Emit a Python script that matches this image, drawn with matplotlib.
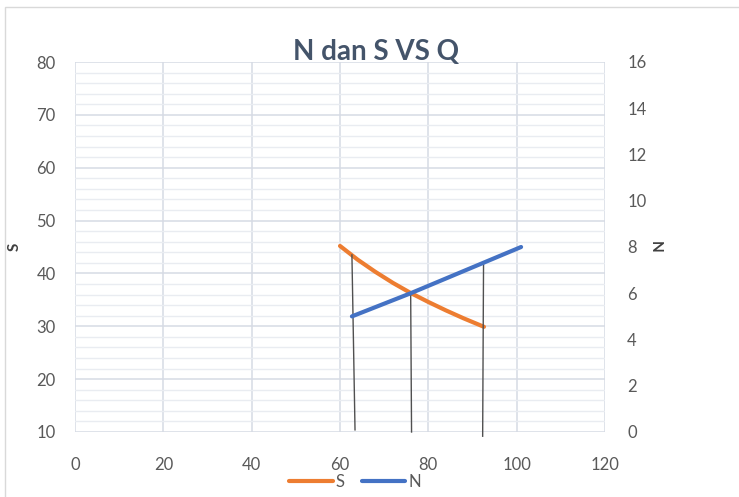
import matplotlib
matplotlib.use("Agg")
import matplotlib.pyplot as plt
from matplotlib.patches import Rectangle
from matplotlib.ticker import MultipleLocator

# Data
q_s = [60, 64, 68, 72, 76, 80, 84, 88, 92.6]
s_vals = [45.2, 42.6, 40.3, 38.2, 36.3, 34.6, 33.0, 31.5, 29.9]
q_n = [62.7, 76, 101]
n_vals = [5.0, 6.0, 8.0]
# hand-drawn vertical guide lines (Q at bottom, Q at top, S at bottom, S at top)
v_q_bottom = [63.4, 76.2, 92.3]
v_q_top = [62.7, 76.0, 92.5]
v_s_bottom = [10.4, 10.0, 9.2]
v_s_top = [43.5, 36.3, 42.0]

x_ticks = [0, 20, 40, 60, 80, 100, 120]
s_ticks = [10, 20, 30, 40, 50, 60, 70, 80]
n_ticks = [0, 2, 4, 6, 8, 10, 12, 14, 16]

plt.rcParams['font.family'] = ['Lato', 'DejaVu Sans']
W, H = 739, 497
fig = plt.figure(figsize=(W / 100, H / 100), dpi=100)
fig.patches.append(Rectangle((5 / W, -0.1), 1.2, 1 - 7 / H + 0.1, transform=fig.transFigure,
                             fill=False, edgecolor='#d9d9d9', linewidth=1))

ax = fig.add_axes([75 / W, 1 - 432 / H, 530 / W, 370 / H])
ax.set_xlim(0, 120)
ax.set_ylim(10, 80)
ax.set_xticks(x_ticks)
ax.set_yticks(s_ticks)
ax.yaxis.set_minor_locator(MultipleLocator(2))
ax.grid(True, which='major', color='#d6dbe4', linewidth=1.1)
ax.grid(True, which='minor', axis='y', color='#e9ecf1', linewidth=1.0)
for sp in ax.spines.values():
    sp.set_visible(False)
ax.tick_params(axis='both', which='both', length=0, colors='#595959', labelsize=12)
ax.tick_params(axis='x', pad=18)
ax.tick_params(axis='y', pad=14)
ax.set_axisbelow(True)

ax2 = ax.twinx()
ax2.set_ylim(0, 16)
ax2.set_yticks(n_ticks)
for sp in ax2.spines.values():
    sp.set_visible(False)
ax2.tick_params(axis='y', length=0, colors='#595959', labelsize=12, pad=16)

ls, = ax.plot(q_s, s_vals, color='#ED7D31', linewidth=3, solid_capstyle='round',
              solid_joinstyle='round', label='S', zorder=3)
ln, = ax2.plot(q_n, n_vals, color='#4472C4', linewidth=3, solid_capstyle='round', label='N', zorder=3)
for xb, xt, yb, yt in zip(v_q_bottom, v_q_top, v_s_bottom, v_s_top):
    ax.plot([xb, xt], [yb, yt], color='#505050', linewidth=1.0, clip_on=False, zorder=4)

ax.set_ylabel('S', color='#404040', fontsize=11, fontweight='bold')
ax.yaxis.set_label_coords((22 - 75) / 530, 0.5)
ax2.set_ylabel('N', color='#404040', fontsize=11, fontweight='bold', rotation=-90, va='center')
ax2.yaxis.set_label_coords((655 - 75) / 530, 0.5)

fig.text(376 / W, 1 - 52 / H, 'N dan S VS Q', ha='center', va='center', fontsize=20,
         fontweight='bold', color='#44546A')

fig.legend(handles=[ls, ln], labels=['S', 'N'], loc='center', bbox_to_anchor=(355 / W, 1 - 482 / H),
           ncol=2, frameon=False, fontsize=12, labelcolor='#595959', handlelength=2.6,
           handletextpad=0.2, columnspacing=1.0, borderaxespad=0)

fig.savefig('out.png', dpi=100)
